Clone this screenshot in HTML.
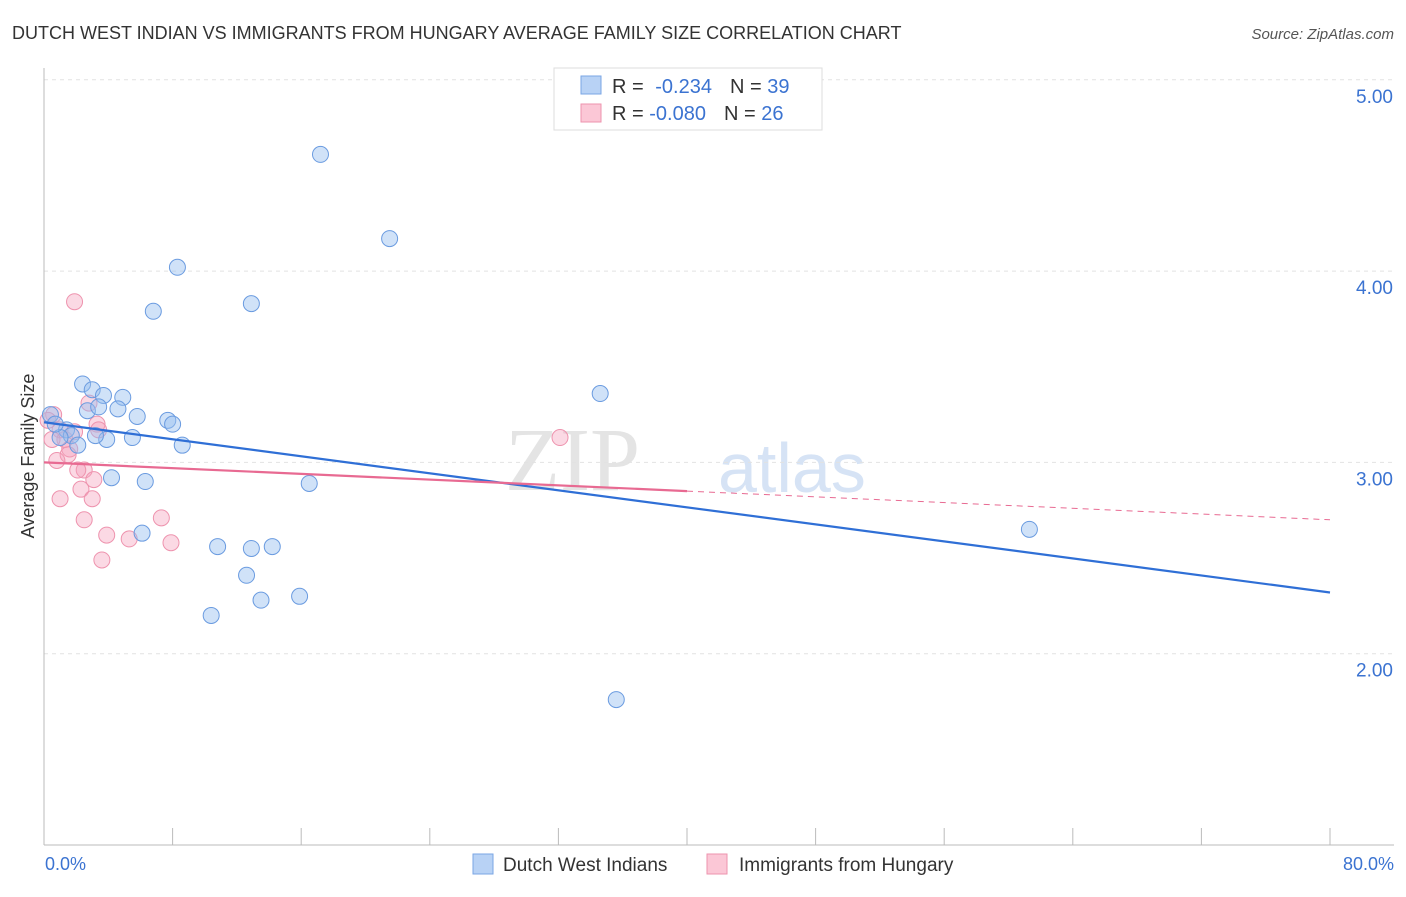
<!DOCTYPE html>
<html><head><meta charset="utf-8"><style>
body{margin:0;background:#fff;font-family:"Liberation Sans",sans-serif;}
</style></head><body>
<svg width="1406" height="892" xmlns="http://www.w3.org/2000/svg" id="chart">
<text x="12" y="39" font-size="18" fill="#333">DUTCH WEST INDIAN VS IMMIGRANTS FROM HUNGARY AVERAGE FAMILY SIZE CORRELATION CHART</text>
<text x="1394" y="39" font-size="15" fill="#555" font-style="italic" text-anchor="end">Source: ZipAtlas.com</text>
<text x="640" y="490" font-size="90" fill="#e4e4e4" text-anchor="end" font-family="Liberation Serif">ZIP</text>
<text x="718" y="492" font-size="70" fill="#d6e3f5">atlas</text>
<g id="grid"></g>
<line x1="44" y1="68" x2="44" y2="845" stroke="#bbb"/>
<line x1="44" y1="845" x2="1394" y2="845" stroke="#bbb"/>
<g id="xticks"></g>
<text x="34" y="456" font-size="18" fill="#333" text-anchor="middle" transform="rotate(-90 34 456)">Average Family Size</text>
<text x="45" y="870" font-size="18" fill="#3b73d1">0.0%</text>
<text x="1394" y="870" font-size="18" fill="#3b73d1" text-anchor="end">80.0%</text>
<g id="marks"></g>
<g>
<rect x="554" y="68" width="268" height="62" fill="#fff" stroke="#ddd"/>
<rect x="581" y="76" width="20" height="18" fill="#b8d2f5" stroke="#7aa6e4"/>
<rect x="581" y="104" width="20" height="18" fill="#fbc7d6" stroke="#ee93ae"/>
<text x="612" y="93" font-size="20" fill="#333">R = <tspan fill="#3b73d1" dx="6">-0.234</tspan><tspan dx="18" fill="#333">N = </tspan><tspan fill="#3b73d1">39</tspan></text>
<text x="612" y="120" font-size="20" fill="#333">R = <tspan fill="#3b73d1">-0.080</tspan><tspan dx="18" fill="#333">N = </tspan><tspan fill="#3b73d1">26</tspan></text>
</g>
<g>
<rect x="473" y="854" width="20" height="20" fill="#b8d2f5" stroke="#7aa6e4"/>
<text x="503" y="871" font-size="19" fill="#333">Dutch West Indians</text>
<rect x="707" y="854" width="20" height="20" fill="#fbc7d6" stroke="#ee93ae"/>
<text x="739" y="871" font-size="19" fill="#333">Immigrants from Hungary</text>
</g>
</svg>
<script>
const yTicks=[2,3,4,5];
const yTickLabels=["2.00","3.00","4.00","5.00"];
const xTicks=[0,8,16,24,32,40,48,56,64,72,80];
const blueX=[17.2,21.5,8.3,6.8,12.9,2.4,3.0,3.7,4.9,2.7,3.4,4.6,5.8,7.7,8.0,0.4,1.4,1.7,3.9,5.5,2.1,8.6,4.2,6.3,16.5,6.1,10.8,12.9,14.2,12.6,13.5,15.9,10.4,34.6,61.3,35.6,1.0,0.7,3.2];
const blueY=[4.61,4.17,4.02,3.79,3.83,3.41,3.38,3.35,3.34,3.27,3.29,3.28,3.24,3.22,3.20,3.25,3.17,3.14,3.12,3.13,3.09,3.09,2.92,2.90,2.89,2.63,2.56,2.55,2.56,2.41,2.28,2.30,2.20,3.36,2.65,1.76,3.13,3.20,3.14];
const pinkX=[1.9,2.8,3.3,32.1,0.6,1.0,1.3,0.5,1.6,1.5,0.8,2.5,2.1,3.1,2.3,1.0,3.0,2.5,7.3,3.9,5.3,7.9,3.6,1.9,0.25,3.4];
const pinkY=[3.84,3.31,3.20,3.13,3.25,3.17,3.12,3.12,3.07,3.04,3.01,2.96,2.96,2.91,2.86,2.81,2.81,2.70,2.71,2.62,2.60,2.58,2.49,3.16,3.22,3.17];
const blueTrend=[3.21,2.32];
const pinkTrend=[3.00,2.85,2.70];
const X=v=>44+v/80*1286;
const Y=v=>845-(v-1)*191.3;
const NS="http://www.w3.org/2000/svg";
function mk(t,a,p){const e=document.createElementNS(NS,t);for(const k in a)e.setAttribute(k,a[k]);p.appendChild(e);return e;}
const grid=document.getElementById('grid');
yTicks.forEach((v,i)=>{
 const l=mk('line',{x1:44,x2:1394,y1:Y(v),y2:Y(v),stroke:'#e2e2e2','stroke-dasharray':'4 4'},grid);
 
 
 const t=mk('text',{x:1393,y:Y(v)+23,'font-size':19,fill:'#3b73d1','text-anchor':'end'},grid);
 t.textContent=yTickLabels[i];
 
 
});
const xt=document.getElementById('xticks');
xTicks.forEach(v=>{
 const l=mk('line',{x1:X(v),x2:X(v),y1:828,y2:845,stroke:'#bbb'},xt);
 
 
});
const m=document.getElementById('marks');
pinkX.forEach((x,i)=>{
 const c=mk('circle',{cx:X(x),cy:Y(pinkY[i]),r:8,fill:'rgba(246,160,188,0.4)',stroke:'#ee93ae','stroke-width':1},m);
 
 
});
blueX.forEach((x,i)=>{
 const c=mk('circle',{cx:X(x),cy:Y(blueY[i]),r:8,fill:'rgba(150,190,240,0.45)',stroke:'#6a9be0','stroke-width':1},m);
 
 
});
let l=mk('line',{x1:X(0),y1:Y(blueTrend[0]),x2:X(80),y2:Y(blueTrend[1]),stroke:'#2f6fd6','stroke-width':2.2},m);


l=mk('line',{x1:X(0),y1:Y(pinkTrend[0]),x2:X(40),y2:Y(pinkTrend[1]),stroke:'#e86a92','stroke-width':2.2},m);


l=mk('line',{x1:X(40),y1:Y(pinkTrend[1]),x2:X(80),y2:Y(pinkTrend[2]),stroke:'#e86a92','stroke-width':1,'stroke-dasharray':'6 5'},m);


</script>
</body></html>
